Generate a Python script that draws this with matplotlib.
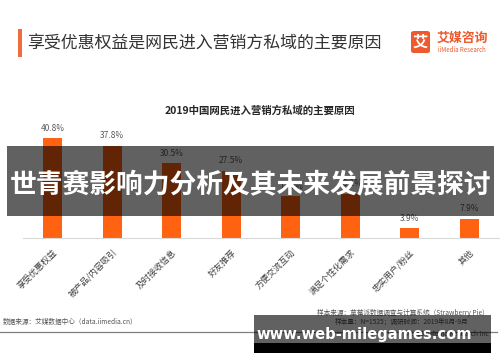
import numpy as np
import matplotlib
matplotlib.use('Agg')
import matplotlib.pyplot as plt
from matplotlib.patches import Rectangle, FancyBboxPatch

plt.rcParams['font.family'] = ['Noto Sans CJK SC', 'DejaVu Sans']

categories = ['享受优惠权益', '被产品/内容吸引', '及时接收信息', '好友推荐',
              '方便交流互动', '满足个性化需求', '忠实用户/粉丝', '其他']
values = [40.8, 37.8, 30.5, 27.5, 17.0, 18.1, 3.9, 7.9]
value_labels = ['40.8%', '37.8%', '30.5%', '27.5%', '17.0%', '18.1%', '3.9%', '7.9%']

W, H = 500, 362
BAR = '#ff6210'
LOGO = '#ec5a2e'


def fx(x):
    return x / W


def fy(y):
    return 1 - y / H


fig = plt.figure(figsize=(5, 3.62), dpi=100)
fig.patch.set_facecolor('white')

# header
fig.patches.append(Rectangle((fx(18), fy(57)), 3.5 / W, 28 / H, transform=fig.transFigure,
                             facecolor='#f26b3a', edgecolor='none'))
fig.text(fx(27), fy(44), '享受优惠权益是网民进入营销方私域的主要原因', fontsize=12.2,
         color='#333333', va='center', ha='left')

# logo
fig.patches.append(FancyBboxPatch((fx(411), fy(53)), 19 / W, 22 / H, transform=fig.transFigure,
                                  boxstyle='round,pad=0,rounding_size=0.006',
                                  facecolor=LOGO, edgecolor='none'))
fig.text(fx(420.5), fy(42), '艾', fontsize=11, color='white', fontweight='bold',
         ha='center', va='center')
fig.text(fx(437), fy(38), '艾媒咨询', fontsize=9.3, color=LOGO, fontweight='bold',
         ha='left', va='center')
fig.text(fx(437.5), fy(49.5), 'iiMedia Research', fontsize=4.4, color=LOGO,
         ha='left', va='center')

# chart
ax = fig.add_axes([fx(23), fy(238), 476 / W, 110 / H])
x = np.arange(len(categories))
bars = ax.bar(x, values, width=0.32, color=BAR, zorder=2)
for b, lab in zip(bars, value_labels):
    ax.annotate(lab, (b.get_x() + b.get_width() / 2, b.get_height()),
                xytext=(0, 4), textcoords='offset points', ha='center', va='bottom',
                fontsize=6, color='#595959')
ax.set_xlim(-0.5, len(categories) - 0.5)
ax.set_ylim(0, 45)
ax.set_xticks(x)
ax.set_xticklabels(categories, rotation=45, ha='right', rotation_mode='anchor',
                   fontsize=6.2, color='#404040')
ax.tick_params(axis='x', length=0, pad=7)
ax.set_yticks([])
for s in ['top', 'left', 'right']:
    ax.spines[s].set_visible(False)
ax.spines['bottom'].set_color('#d9d9d9')
ax.spines['bottom'].set_linewidth(0.8)
ax.set_facecolor('none')

fig.text(fx(260), fy(110), '2019中国网民进入营销方私域的主要原因', fontsize=7.5,
         fontweight='bold', color='#262626', ha='center', va='center')

# footer
fig.add_artist(plt.Line2D([0, fx(497)], [fy(331.5), fy(331.5)], transform=fig.transFigure,
                          color='#808080', linewidth=0.9))
fig.text(fx(3), fy(322), '数据来源：艾媒数据中心（data.iimedia.cn）', fontsize=4.8,
         color='#555555', ha='left', va='center')
fig.text(fx(489), fy(313), '样本来源：草莓派数据调查与计算系统（Strawberry Pie）', fontsize=4.8,
         color='#555555', ha='right', va='center')
fig.text(fx(335), fy(322), '样本量：N=1525；调研时间：2019年8月-9月', fontsize=4.8,
         color='#555555', ha='left', va='center')
fig.text(fx(489), fy(334), '©2019 iiMedia Research Inc', fontsize=4.8,
         color='#555555', ha='right', va='center')

# overlays
fig.patches.append(Rectangle((fx(7), fy(216)), 487 / W, 70 / H, transform=fig.transFigure,
                             facecolor='black', alpha=0.62, edgecolor='none', zorder=10))
fig.text(fx(250.5), fy(185), '世青赛影响力分析及其未来发展前景探讨', fontsize=19.3,
         fontweight='bold', color='white', ha='center', va='center', zorder=11)

fig.patches.append(Rectangle((fx(254), fy(343)), 237 / W, 28 / H, transform=fig.transFigure,
                             facecolor='black', alpha=0.62, edgecolor='none', zorder=10))
fig.patches.append(Rectangle((fx(254), fy(353)), 237 / W, 10 / H, transform=fig.transFigure,
                             facecolor='black', edgecolor='none', zorder=10))
fig.text(fx(364), fy(335), 'www.web-milegames.com', fontsize=10.6, fontweight='bold',
         family='DejaVu Sans', color='white', ha='center', va='center', zorder=11)

fig.savefig('out.png', dpi=100)
